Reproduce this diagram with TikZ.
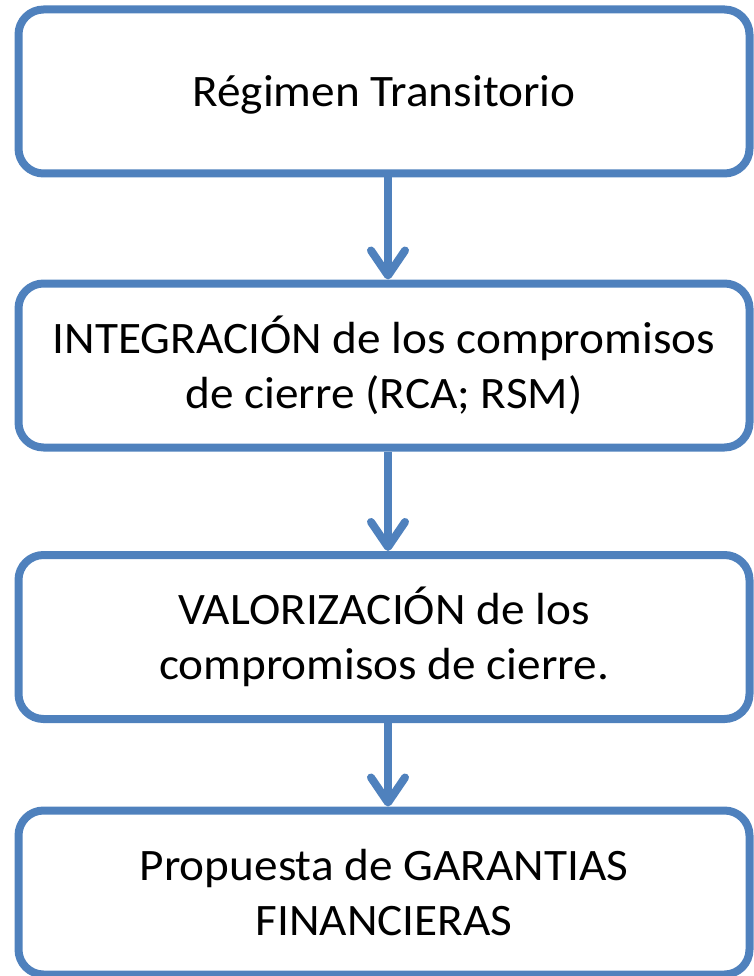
\documentclass[tikz,border=0pt]{standalone}
\usepackage{fontspec}
\setmainfont{Carlito}[FakeStretch=1.05]
\usetikzlibrary{arrows.meta}
\definecolor{officeblue}{HTML}{4F81BD}
\begin{document}
\begin{tikzpicture}[x=1pt, y=-1pt,
  box/.style={draw=officeblue, line width=8pt, rounded corners=25pt, minimum width=731pt, minimum height=164pt, align=center, inner sep=0pt, font=\fontsize{45}{55}\selectfont},
  flow/.style={draw=officeblue, line width=8pt, -{Straight Barb[length=25pt, width=34pt, round]}}]
\useasboundingbox (0,0) rectangle (753,976);
\node[box, text depth=0pt] (regimen) at (384, 91.5) {Régimen Transitorio};
\node[box] (integracion) at (384, 365.5) {INTEGRACIÓN de los compromisos\\de cierre (RCA; RSM)};
\node[box] (valorizacion) at (384, 637) {VALORIZACIÓN de los\\compromisos de cierre.};
\node[box] (garantias) at (384, 892.5) {Propuesta de GARANTIAS\\FINANCIERAS};
\draw[flow] ([xshift=4pt]regimen.south) -- ([xshift=4pt]integracion.north);
\draw[flow] ([xshift=4pt]integracion.south) -- ([xshift=4pt]valorizacion.north);
\draw[flow] ([xshift=4pt]valorizacion.south) -- ([xshift=4pt]garantias.north);
\end{tikzpicture}
\end{document}
